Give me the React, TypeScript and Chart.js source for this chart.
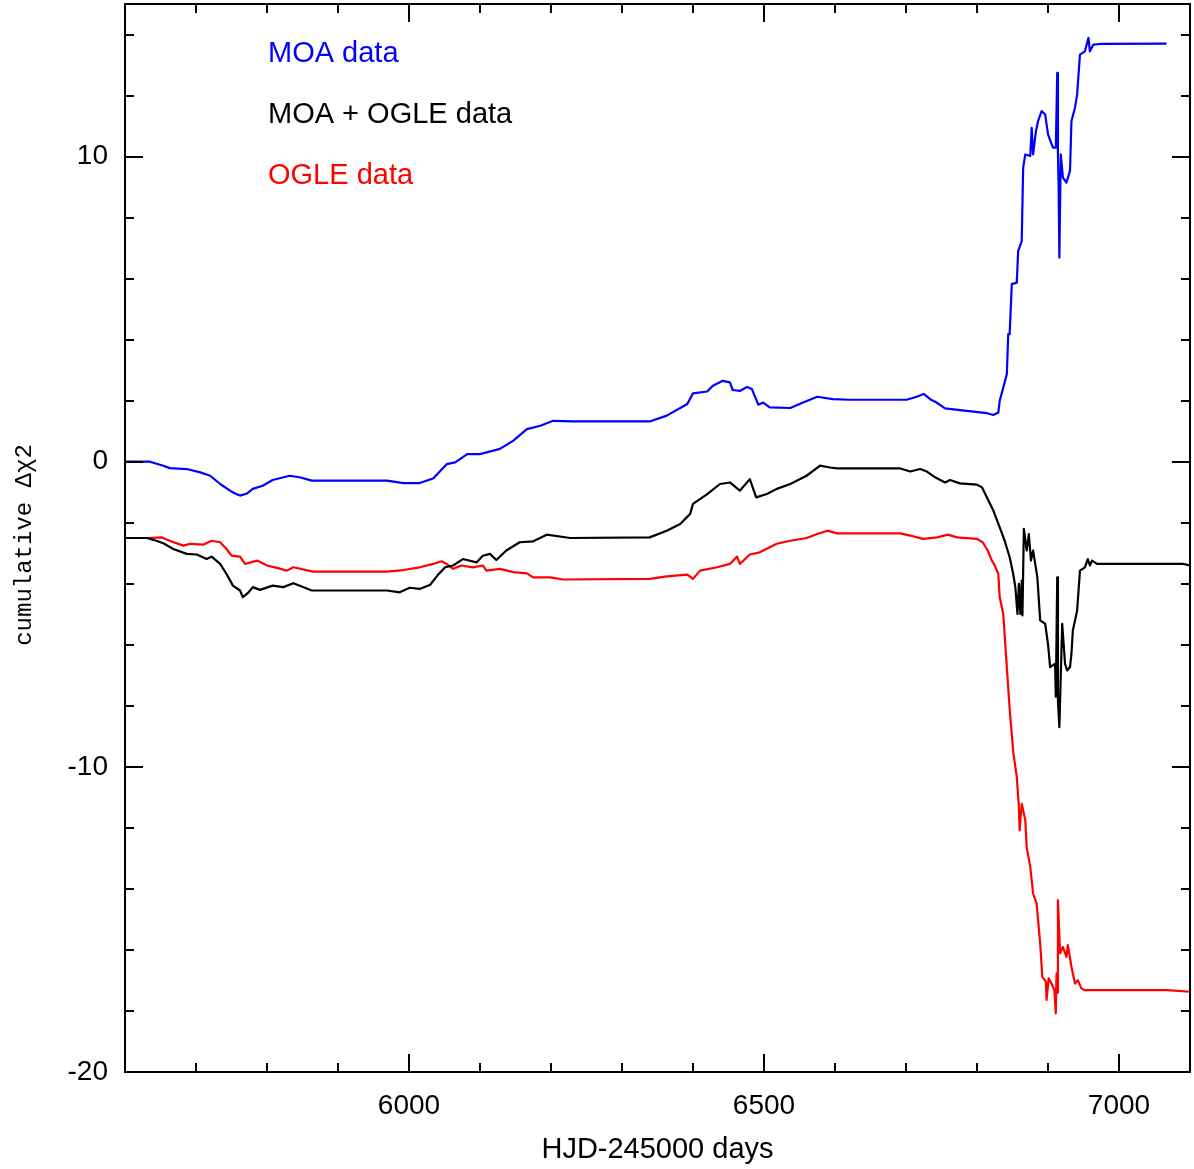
import React, { useEffect, useRef } from 'react';
import { Chart, registerables } from 'chart.js';

Chart.register(...registerables);

// ---- MOA data (blue) ----
const moaX = [
  5600, 5635, 5654, 5663, 5687, 5706, 5720, 5734, 5748, 5755, 5762, 5772, 5780, 5794, 5808, 5832, 5846, 5863,
  5969, 5992, 6015, 6034, 6053, 6065, 6082, 6100, 6128, 6147, 6166, 6185, 6203, 6231, 6339, 6363, 6392, 6400,
  6420, 6428, 6442, 6452, 6456, 6466, 6476, 6483, 6492, 6499, 6508, 6537, 6555, 6575, 6597, 6621, 6701, 6715,
  6725, 6734, 6743, 6755, 6776, 6814, 6823, 6830, 6832, 6837, 6842, 6844, 6846, 6849, 6856, 6858, 6863, 6865,
  6868, 6875, 6877, 6879, 6883, 6886, 6891, 6896, 6900, 6907, 6911, 6913, 6914, 6915, 6916, 6918, 6921, 6926,
  6931, 6933, 6938, 6941, 6945, 6952, 6957, 6959, 6964, 6973, 7067,
];
const moaY = [
  0.0, 0.0, -0.13, -0.21, -0.24, -0.35, -0.46, -0.73, -0.95, -1.04, -1.11, -1.04, -0.89, -0.79, -0.6, -0.46, -0.51, -0.62,
  -0.62, -0.7, -0.7, -0.55, -0.08, -0.02, 0.25, 0.25, 0.42, 0.69, 1.07, 1.18, 1.34, 1.32, 1.32, 1.51, 1.89, 2.24,
  2.3, 2.49, 2.65, 2.6, 2.35, 2.32, 2.45, 2.38, 1.87, 1.94, 1.78, 1.76, 1.94, 2.13, 2.05, 2.03, 2.03, 2.13,
  2.22, 2.05, 1.94, 1.75, 1.69, 1.59, 1.53, 1.61, 2.0, 2.43, 2.87, 4.18, 4.18, 5.82, 5.87, 6.91, 7.23, 9.63,
  10.07, 10.02, 10.94, 10.07, 10.83, 11.16, 11.49, 11.38, 10.73, 10.29, 10.29, 12.74, 10.07, 8.98, 6.69, 10.07, 9.31, 9.15,
  9.53, 11.16, 11.6, 12.03, 13.34, 13.45, 13.89, 13.45, 13.67, 13.69, 13.7,
];

// ---- MOA + OGLE data (black) ----
const comboX = [
  5600, 5631, 5640, 5654, 5668, 5687, 5701, 5715, 5722, 5734, 5743, 5752, 5762, 5766, 5773, 5780, 5790, 5808,
  5823, 5837, 5849, 5863, 5969, 5987, 6001, 6015, 6030, 6041, 6051, 6062, 6076, 6095, 6104, 6114, 6123, 6137,
  6156, 6175, 6194, 6227, 6339, 6363, 6382, 6396, 6400, 6420, 6438, 6452, 6466, 6480, 6489, 6504, 6518, 6537,
  6560, 6579, 6593, 6603, 6692, 6706, 6720, 6730, 6741, 6755, 6762, 6776, 6800, 6807, 6814, 6823, 6832, 6839,
  6846, 6851, 6854, 6857, 6859, 6861, 6863, 6864, 6866, 6870, 6873, 6876, 6879, 6882, 6885, 6889, 6896, 6900,
  6903, 6910, 6911, 6913, 6914, 6916, 6920, 6924, 6927, 6931, 6933, 6935, 6941, 6945, 6952, 6956, 6959, 6962,
  6969, 7068, 7090, 7100,
];
const comboY = [
  -2.5, -2.5, -2.56, -2.67, -2.86, -3.02, -3.04, -3.19, -3.11, -3.35, -3.68, -4.06, -4.22, -4.44, -4.31, -4.11, -4.2, -4.06,
  -4.11, -3.98, -4.09, -4.22, -4.22, -4.28, -4.13, -4.17, -4.03, -3.7, -3.46, -3.4, -3.19, -3.3, -3.08, -3.02, -3.22, -2.91,
  -2.64, -2.61, -2.39, -2.5, -2.48, -2.26, -2.04, -1.71, -1.38, -1.06, -0.73, -0.68, -0.95, -0.57, -1.17, -1.06, -0.89, -0.73,
  -0.46, -0.13, -0.19, -0.22, -0.22, -0.32, -0.24, -0.33, -0.51, -0.68, -0.6, -0.71, -0.75, -0.84, -1.17, -1.6, -2.15, -2.59,
  -3.13, -3.68, -4.11, -4.99, -4.0, -4.99, -3.9, -5.04, -2.2, -2.91, -2.37, -3.24, -2.91, -3.35, -3.79, -5.2, -5.31, -5.97,
  -6.73, -6.62, -7.7, -3.79, -7.82, -8.7, -5.31, -6.62, -6.84, -6.73, -6.3, -5.53, -4.88, -3.57, -3.46, -3.19, -3.4, -3.24,
  -3.35, -3.35, -3.35, -3.4,
];

// ---- OGLE data (red) ----
const ogleX = [
  5600, 5631, 5652, 5663, 5682, 5692, 5710, 5722, 5734, 5743, 5750, 5762, 5769, 5786, 5800, 5814, 5828, 5837,
  5865, 5969, 5992, 6015, 6034, 6046, 6053, 6062, 6074, 6090, 6104, 6109, 6128, 6147, 6166, 6175, 6199, 6217,
  6339, 6363, 6392, 6400, 6410, 6434, 6452, 6462, 6466, 6480, 6494, 6518, 6537, 6560, 6575, 6589, 6603, 6692,
  6706, 6724, 6744, 6759, 6772, 6800, 6808, 6815, 6821, 6825, 6830, 6832, 6837, 6842, 6846, 6851, 6856, 6859,
  6860, 6863, 6868, 6870, 6875, 6879, 6884, 6889, 6892, 6897, 6898, 6901, 6906, 6909, 6911, 6912, 6913, 6914,
  6917, 6921, 6926, 6928, 6933, 6938, 6942, 6947, 6952, 7068, 7100,
];
const ogleY = [
  -2.5, -2.5, -2.48, -2.59, -2.75, -2.69, -2.72, -2.59, -2.64, -2.86, -3.08, -3.11, -3.35, -3.24, -3.4, -3.48, -3.57, -3.46,
  -3.6, -3.6, -3.55, -3.46, -3.35, -3.26, -3.35, -3.51, -3.4, -3.46, -3.4, -3.57, -3.51, -3.62, -3.66, -3.79, -3.79, -3.86,
  -3.84, -3.76, -3.7, -3.84, -3.57, -3.46, -3.35, -3.11, -3.35, -3.04, -2.97, -2.69, -2.59, -2.5, -2.37, -2.26, -2.35, -2.35,
  -2.42, -2.53, -2.48, -2.39, -2.48, -2.53, -2.64, -2.91, -3.24, -3.4, -3.68, -4.44, -5.0, -6.73, -8.1, -9.5, -10.33, -11.32,
  -12.08, -11.21, -11.75, -12.63, -13.28, -14.15, -14.48, -15.79, -16.88, -17.04, -17.64, -16.93, -17.15, -17.32, -18.08, -16.77, -17.4, -14.37,
  -16.11, -15.9, -16.23, -15.84, -16.55, -17.1, -16.99, -17.26, -17.32, -17.32, -17.37,
];

// ---- axes ----
const xMajorTicks = [6000, 6500, 7000];
const xMinorTicks = [5700, 5800, 5900, 6100, 6200, 6300, 6400, 6600, 6700, 6800, 6900];
const yMajorTicks = [-20, -10, 0, 10];
const yMinorTicks = [-18, -16, -14, -12, -8, -6, -4, -2, 2, 4, 6, 8, 12, 14];

const xTitle = 'HJD-245000 days';
const yTitle = 'cumulative Δχ2';
const seriesLabels = ['MOA data', 'MOA + OGLE data', 'OGLE data'];
const seriesColors = ['#0000ff', '#000000', '#ff0000'];

const SANS = "'Liberation Sans', Arial, Helvetica, sans-serif";
const MONO = "'Liberation Mono', 'DejaVu Sans Mono', monospace";

function toPoints(xs: number[], ys: number[]) {
  return xs.map((x, i) => ({ x, y: ys[i] }));
}

const frameTicks = {
  id: 'frameTicks',
  afterDatasetsDraw(chart: any) {
    const { ctx, chartArea: a, scales } = chart;
    const xs = scales.x;
    const ys = scales.y;
    ctx.save();
    ctx.strokeStyle = '#000';
    ctx.lineWidth = 2;
    ctx.strokeRect(a.left, a.top, a.right - a.left, a.bottom - a.top);
    ctx.beginPath();
    const vTick = (v: number, len: number) => {
      const p = Math.round(xs.getPixelForValue(v));
      ctx.moveTo(p, a.bottom);
      ctx.lineTo(p, a.bottom - len);
      ctx.moveTo(p, a.top);
      ctx.lineTo(p, a.top + len);
    };
    const hTick = (v: number, len: number) => {
      const p = Math.round(ys.getPixelForValue(v));
      ctx.moveTo(a.left, p);
      ctx.lineTo(a.left + len, p);
      ctx.moveTo(a.right, p);
      ctx.lineTo(a.right - len, p);
    };
    xMajorTicks.forEach((v) => vTick(v, 18));
    xMinorTicks.forEach((v) => vTick(v, 9));
    yMajorTicks.forEach((v) => hTick(v, 18));
    yMinorTicks.forEach((v) => hTick(v, 9));
    ctx.stroke();
    ctx.restore();
  },
};

const textLabels = {
  id: 'textLabels',
  afterDraw(chart: any) {
    const { ctx, chartArea: a } = chart;
    ctx.save();
    ctx.font = `29px ${SANS}`;
    ctx.textAlign = 'left';
    ctx.textBaseline = 'middle';
    seriesLabels.forEach((t, i) => {
      ctx.fillStyle = seriesColors[i];
      ctx.fillText(t, a.left + 143, a.top + 50 + i * 61);
    });
    // rotated y-axis title
    ctx.translate(25, (a.top + a.bottom) / 2 + 7);
    ctx.rotate(-Math.PI / 2);
    ctx.font = `24px ${MONO}`;
    ctx.fillStyle = '#000';
    ctx.textAlign = 'center';
    ctx.fillText(yTitle, 0, 0);
    ctx.restore();
  },
};

export default function App() {
  const ref = useRef<HTMLCanvasElement>(null);
  useEffect(() => {
    const chart = new Chart(ref.current as HTMLCanvasElement, {
      type: 'line',
      data: {
        datasets: [
          { label: seriesLabels[0], data: toPoints(moaX, moaY), borderColor: seriesColors[0] },
          { label: seriesLabels[1], data: toPoints(comboX, comboY), borderColor: seriesColors[1] },
          { label: seriesLabels[2], data: toPoints(ogleX, ogleY), borderColor: seriesColors[2] },
        ],
      },
      options: {
        responsive: false,
        maintainAspectRatio: false,
        animation: false,
        parsing: false,
        normalized: true,
        layout: { padding: { top: 4, right: 4, left: 0, bottom: 0 } },
        elements: {
          point: { radius: 0 },
          line: { borderWidth: 2.2, tension: 0, fill: false, borderJoinStyle: 'round' },
        },
        plugins: { legend: { display: false }, tooltip: { enabled: false } },
        scales: {
          x: {
            type: 'linear',
            min: 5600,
            max: 7100,
            grid: { display: false, drawTicks: false },
            border: { display: false },
            afterBuildTicks: (s: any) => {
              s.ticks = xMajorTicks.map((v) => ({ value: v }));
            },
            afterFit: (s: any) => {
              s.height = 97;
              s.paddingLeft = 0;
              s.paddingRight = 0;
            },
            ticks: {
              padding: 17,
              color: '#000',
              autoSkip: false,
              maxRotation: 0,
              font: { family: SANS, size: 28 },
              callback: (v: any) => String(v),
            },
            title: {
              display: true,
              text: xTitle,
              color: '#000',
              font: { family: SANS, size: 29 },
              padding: { top: 0, bottom: 2 },
            },
          },
          y: {
            type: 'linear',
            min: -20,
            max: 15,
            grid: { display: false, drawTicks: false },
            border: { display: false },
            afterBuildTicks: (s: any) => {
              s.ticks = yMajorTicks.map((v) => ({ value: v }));
            },
            afterFit: (s: any) => {
              s.width = 125;
              s.paddingTop = 0;
              s.paddingBottom = 0;
            },
            ticks: {
              padding: 17,
              color: '#000',
              autoSkip: false,
              font: { family: SANS, size: 28 },
              callback: (v: any) => String(v),
            },
            title: { display: false },
          },
        },
      },
      plugins: [frameTicks, textLabels],
    } as any);
    return () => chart.destroy();
  }, []);
  return (
    <div style={{ position: 'absolute', left: 0, top: 0, width: 1194, height: 1169, background: '#fff' }}>
      <canvas ref={ref} width={1194} height={1169} style={{ display: 'block', width: 1194, height: 1169 }} />
    </div>
  );
}
